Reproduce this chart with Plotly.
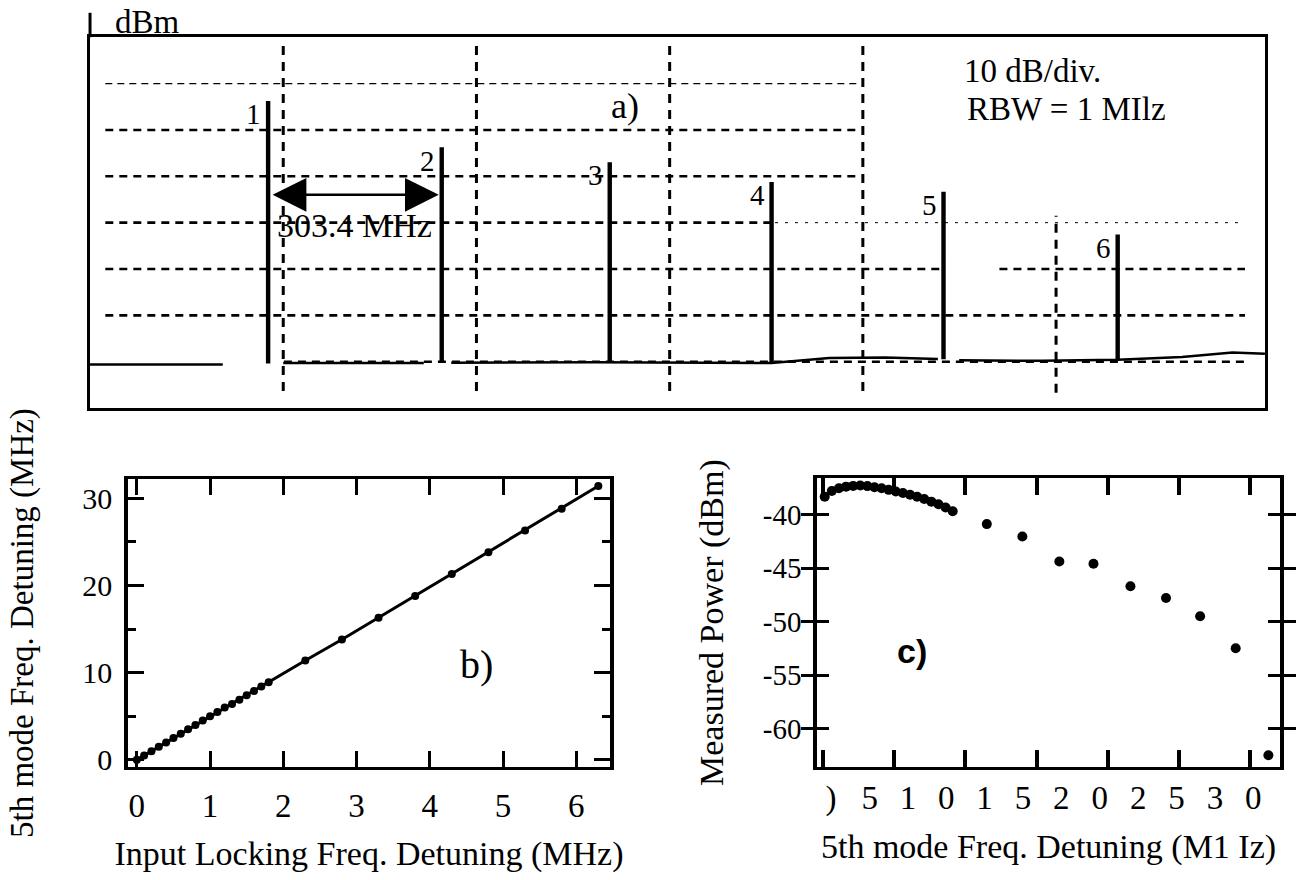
import numpy as np
import plotly.graph_objects as go

# ---------------- data ----------------
# (a) spectrum analyser trace: six longitudinal modes
peak_labels = ["1", "2", "3", "4", "5", "6"]
peak_freq_mhz = [318, 628, 928, 1217, 1524, 1835]
peak_level_dbm = [-14.0, -24.0, -27.2, -31.5, -33.6, -42.8]
floor_freq_mhz = [0, 237, None, 345, 596, None, 645, 900, 1217, 1320, 1420, 1514,
                  None, 1552, 1700, 1835, 1950, 2040, 2098]
floor_level_dbm = [-70.6, -70.6, None, -70.3, -70.3, None, -70.2, -70.1, -70.3, -69.2, -69.1, -69.4,
                   None, -69.7, -69.8, -69.6, -69.0, -68.0, -68.3]
mode_spacing_text = "303.4 MHz"
spacing_marker_dbm = -34.0

# (b) 5th mode detuning vs input locking detuning (MHz)
b_input_detuning = [0.0, 0.1, 0.2, 0.3, 0.4, 0.5, 0.6, 0.7, 0.8, 0.9, 1.0, 1.1, 1.2, 1.3,
                    1.4, 1.5, 1.6, 1.7, 1.8, 2.3, 2.8, 3.3, 3.8, 4.3, 4.8, 5.3, 5.8, 6.3]
b_mode5_detuning = [0.0, 0.5, 1.0, 1.5, 2.0, 2.5, 3.0, 3.5, 4.0, 4.5, 5.0, 5.5, 6.0, 6.4,
                    6.9, 7.4, 7.9, 8.4, 8.9, 11.4, 13.8, 16.3, 18.8, 21.3, 23.8, 26.3, 28.8, 31.4]

# (c) measured power vs 5th mode detuning
c_detuning = [0.1, 0.6, 1.1, 1.6, 2.1, 2.6, 3.1, 3.6, 4.1, 4.6, 5.1, 5.6, 6.1, 6.6,
              7.1, 7.6, 8.1, 8.6, 9.1, 11.5, 14.0, 16.6, 19.0, 21.6, 24.1, 26.5, 29.0, 31.3]
c_power_dbm = [-38.35, -37.8, -37.55, -37.4, -37.33, -37.3, -37.35, -37.45, -37.55, -37.7,
               -37.85, -38.0, -38.15, -38.35, -38.55, -38.8, -39.05, -39.35, -39.7,
               -40.9, -42.05, -44.4, -44.6, -46.7, -47.8, -49.5, -52.5, -62.5]

b_xticks = [0, 1, 2, 3, 4, 5, 6]
b_yticks = [0, 10, 20, 30]
c_yticks = [-40, -45, -50, -55, -60]
c_ytext = ["-40", "-45", "-50", "-55", "-60"]
c_xtick_text = [")", "5", "1", "0", "1", "5", "2", "0", "2", "5", "3", "0"]

# ---------------- figure ----------------
SERIF = "Liberation Serif, Times New Roman, serif"
SANS = "Liberation Sans, Arial, sans-serif"
INK = "black"

fig = go.Figure()

# spike bases follow the measured floor
fx = [f for f in floor_freq_mhz if f is not None]
fy = [v for v in floor_level_dbm if v is not None]
sx, sy = [], []
hw = 1.8
for f, lv in zip(peak_freq_mhz, peak_level_dbm):
    base = float(np.interp(f, fx, fy))
    sx += [f - hw, f - hw, f + hw, f + hw, None]
    sy += [base, lv, lv, base, None]

fig.add_trace(go.Scatter(x=floor_freq_mhz, y=floor_level_dbm, mode="lines",
                         line=dict(color=INK, width=2.5), connectgaps=False,
                         xaxis="x", yaxis="y", hoverinfo="skip"))
fig.add_trace(go.Scatter(x=sx, y=sy, mode="lines", line=dict(color=INK, width=2.4),
                         connectgaps=False, xaxis="x", yaxis="y", hoverinfo="skip"))

fig.add_trace(go.Scatter(x=b_input_detuning, y=b_mode5_detuning, mode="lines+markers",
                         line=dict(color=INK, width=3), marker=dict(color=INK, size=8),
                         xaxis="x2", yaxis="y2"))

fig.add_trace(go.Scatter(x=c_detuning, y=c_power_dbm, mode="markers",
                         marker=dict(color=INK, size=10), cliponaxis=True,
                         xaxis="x3", yaxis="y3"))
# carrier for the tick-label axis of panel c
fig.add_trace(go.Scatter(x=[None], y=[None], mode="markers", xaxis="x4", yaxis="y3",
                         hoverinfo="skip"))

# ---------------- axes ----------------
a_div = 345.0  # MHz per horizontal graticule division
fig.update_layout(
    xaxis=dict(domain=[0.0692, 0.9723], range=[0, 2098], anchor="y",
               showgrid=False, zeroline=False, showticklabels=False, ticks="",
               showline=True, linecolor=INK, linewidth=3, mirror=True),
    yaxis=dict(domain=[0.5315, 0.9572], range=[-80, 0], anchor="x",
               showgrid=False, zeroline=False, showticklabels=False, ticks="",
               showline=True, linecolor=INK, linewidth=3, mirror=True),
    xaxis2=dict(domain=[0.0984, 0.4689], range=[-0.12, 6.46], anchor="y2",
                tickvals=b_xticks, ticks="inside", ticklen=16, tickwidth=3, tickcolor=INK,
                mirror="allticks", showline=True, linecolor=INK, linewidth=2.5,
                showgrid=False, zeroline=False, ticklabelstandoff=8,
                tickfont=dict(family=SERIF, size=33, color=INK),
                title=dict(text="Input Locking Freq. Detuning (MHz)", standoff=18,
                           font=dict(family=SERIF, size=34, color=INK))),
    yaxis2=dict(domain=[0.1193, 0.45], range=[-0.83, 32.2], anchor="x2",
                tickvals=b_yticks, ticks="inside", ticklen=16, tickwidth=3, tickcolor=INK,
                minor=dict(tickvals=[5, 15, 25], ticks="inside", ticklen=8, tickwidth=2.5,
                           tickcolor=INK),
                mirror="allticks", showline=True, linecolor=INK, linewidth=3.5,
                showgrid=False, zeroline=False, ticklabelstandoff=6,
                tickfont=dict(family=SERIF, size=30, color=INK),
                title=dict(text="5th mode Freq. Detuning (MHz)", standoff=40,
                           font=dict(family=SERIF, size=33, color=INK))),
    xaxis3=dict(domain=[0.628, 0.9839], range=[-0.44, 32.12], anchor="y3",
                tick0=0, dtick=5, ticks="inside", ticklen=17, tickwidth=3.5, tickcolor=INK,
                showticklabels=False, mirror="allticks", showline=True, linecolor=INK,
                linewidth=3, showgrid=False, zeroline=False),
    xaxis4=dict(overlaying="x3", anchor="y3", side="bottom", range=[-0.44, 32.12],
                tickvals=[0.54, 3.26, 5.96, 8.64, 11.34, 14.04, 16.74, 19.44, 22.14,
                          24.84, 27.54, 30.24],
                ticktext=c_xtick_text, ticks="", showline=False, showgrid=False,
                zeroline=False, ticklabelstandoff=8,
                tickfont=dict(family=SERIF, size=33, color=INK),
                title=dict(text="5th mode Freq. Detuning (M1 Iz)", standoff=18,
                           font=dict(family=SERIF, size=34, color=INK))),
    yaxis3=dict(domain=[0.1193, 0.4511], range=[-63.6, -36.6], anchor="x3",
                tickvals=c_yticks, ticktext=c_ytext, ticks="inside", ticklen=12,
                tickwidth=2.5, tickcolor=INK, mirror="allticks", showline=True,
                linecolor=INK, linewidth=3.5, showgrid=False, zeroline=False,
                ticklabelstandoff=6, tickfont=dict(family=SERIF, size=29, color=INK),
                title=dict(text="Measured Power (dBm)", standoff=30,
                           font=dict(family=SERIF, size=34, color=INK))),
)

# ---------------- graticule of panel a ----------------
shapes = []
thick = dict(color=INK, width=2.6, dash="8px,6px")
thin = dict(color=INK, width=1.4, dash="7px,5px")
faint = dict(color=INK, width=1.0, dash="3px,7px")
h_lines = [(-10, 0.013, 0.655, thin), (-20, 0.013, 0.655, thick), (-30, 0.013, 0.655, thick),
           (-40, 0.013, 0.583, thick), (-40, 0.583, 0.983, faint),
           (-50, 0.013, 0.723, thick), (-50, 0.774, 0.983, thick),
           (-60, 0.013, 0.983, thick), (-70, 0.165, 0.983, thick)]
for lvl, x0, x1, ln in h_lines:
    shapes.append(dict(type="line", xref="x domain", yref="y", x0=x0, x1=x1, y0=lvl, y1=lvl,
                       line=ln, layer="below"))
vdash = dict(color=INK, width=3, dash="9px,7px")
for k, (y0, y1) in zip([1, 2, 3, 4, 5],
                       [(0.046, 0.988), (0.046, 0.988), (0.046, 0.988), (0.046, 0.988), (0.041, 0.519)]):
    shapes.append(dict(type="line", xref="x", yref="y domain", x0=k * a_div, x1=k * a_div,
                       y0=y0, y1=y1, line=vdash, layer="below"))
# left frame line of panel a extends above the frame
shapes.append(dict(type="line", xref="x domain", yref="y domain", x0=0, x1=0, y0=1, y1=1.066,
                   line=dict(color=INK, width=3)))
fig.update_layout(shapes=shapes)

# ---------------- annotations ----------------
ann = []
for lab, f, lv in zip(peak_labels, peak_freq_mhz, peak_level_dbm):
    ann.append(dict(x=f, y=lv, xref="x", yref="y", text=lab, showarrow=False,
                    xanchor="right", yanchor="top", xshift=-5, yshift=6,
                    font=dict(family=SERIF, size=29, color=INK)))
ann.append(dict(x=peak_freq_mhz[1], y=spacing_marker_dbm, ax=peak_freq_mhz[0], ay=spacing_marker_dbm,
                xref="x", yref="y", axref="x", ayref="y", text="", showarrow=True,
                arrowhead=2, startarrowhead=2, arrowside="end+start", arrowsize=2.7,
                startarrowsize=2.7, arrowwidth=2.5, arrowcolor=INK, standoff=3, startstandoff=3))
ann.append(dict(x=(peak_freq_mhz[0] + peak_freq_mhz[1]) / 2, y=spacing_marker_dbm,
                xref="x", yref="y", text=mode_spacing_text, showarrow=False,
                xanchor="center", yanchor="top", yshift=-10,
                font=dict(family=SERIF, size=34, color=INK)))
ann.append(dict(x=0.455, y=0.815, xref="x domain", yref="y domain", text="a)", showarrow=False,
                xanchor="center", yanchor="middle",
                font=dict(family=SERIF, size=36, color=INK)))
ann.append(dict(x=0.802, y=0.908, xref="x domain", yref="y domain", text="10 dB/div.",
                xanchor="center", yanchor="middle",
                showarrow=False, font=dict(family=SERIF, size=33, color=INK)))
ann.append(dict(x=0.831, y=0.807, xref="x domain", yref="y domain", text="RBW = 1 MIlz",
                xanchor="center", yanchor="middle",
                showarrow=False, font=dict(family=SERIF, size=33, color=INK)))
ann.append(dict(x=113 / 1301, y=1 - 22 / 880, xref="paper", yref="paper", text="dBm",
                xanchor="left", yanchor="middle", showarrow=False,
                font=dict(family=SERIF, size=33, color=INK)))
ann.append(dict(x=476 / 1301, y=1 - 671 / 880, xref="paper", yref="paper", text="b)",
                xanchor="center", yanchor="middle",
                showarrow=False, font=dict(family=SERIF, size=40, color=INK)))
ann.append(dict(x=912 / 1301, y=1 - 658 / 880, xref="paper", yref="paper", text="<b>c)</b>",
                xanchor="center", yanchor="middle",
                showarrow=False, font=dict(family=SANS, size=34, color=INK)))
fig.update_layout(annotations=ann)

fig.update_layout(width=1301, height=880, margin=dict(l=0, r=0, t=0, b=0),
                  paper_bgcolor="white", plot_bgcolor="white", showlegend=False)

fig.write_html("out.html", config={"displayModeBar": False},
               post_script="document.body.style.margin='0px';document.body.style.overflow='hidden';")
